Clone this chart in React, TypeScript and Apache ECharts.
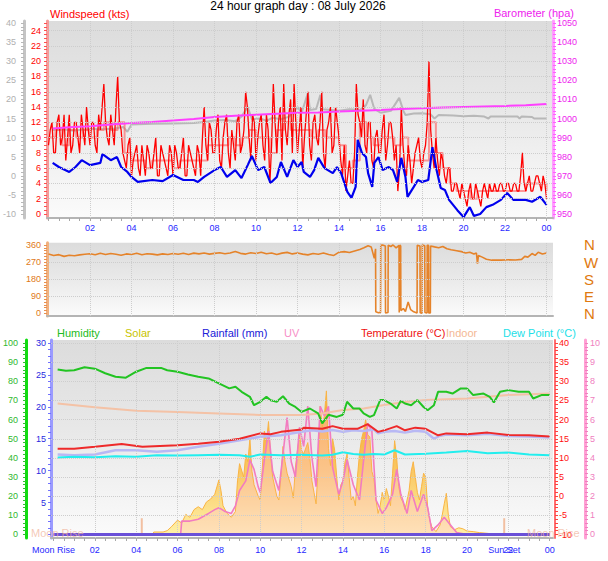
import React, { useEffect, useRef } from "react";
import * as echarts from "echarts";

// ---------- DATA ----------
// Top panel: wind gust (kts), every 10 minutes from 00:00
const gustKts = [
  9, 12, 8, 13, 10, 7,
  13, 9, 12, 8, 11, 14,
  9, 12, 8, 11, 17, 10,
  13, 9, 18, 11, 7, 9,
  5, 8, 6, 9, 5, 8,
  6, 10, 5, 8, 6, 9,
  5, 8, 6, 10, 5, 8,
  6, 9, 5, 14, 7, 11,
  8, 13, 6, 12, 8, 11,
  7, 13, 9, 16, 10, 13,
  7, 12, 9, 13, 4, 17,
  8, 14, 17, 9, 15, 17,
  8, 14, 10, 16, 7, 13,
  9, 16, 6, 12, 8, 14,
  10, 5, 3, 7, 4, 17,
  12, 15, 8, 12, 6, 11,
  8, 13, 9, 12, 7, 3,
  14, 6, 9, 4, 8, 10,
  6, 9, 20, 8, 10, 5,
  7, 4, 6, 3, 4, 2,
  3, 1, 4, 2, 3, 1,
  4, 2, 3, 4, 3, 4,
  3, 4, 3, 4, 3, 8,
  3, 5, 3, 5, 4, 5,
  2,
];
// wind gust (kts) at the 5-minute marks in between (00:05, 00:15, ...)
const gustKtsMid = [
  11, 8, 12, 9, 13, 10,
  8, 12, 10, 13, 9, 11,
  12, 9, 13, 14, 12, 9,
  11, 14, 12, 8, 6, 10,
  7, 9, 5, 7, 9, 6,
  8, 5, 9, 7, 5, 8,
  9, 6, 8, 5, 9, 7,
  5, 8, 10, 9, 12, 8,
  11, 7, 10, 13, 6, 9,
  12, 8, 11, 14, 7, 12,
  10, 13, 7, 11, 9, 12,
  12, 7, 11, 13, 8, 12,
  11, 6, 13, 9, 12, 10,
  12, 8, 11, 14, 9, 12,
  7, 9, 5, 4, 8, 13,
  10, 9, 12, 7, 10, 8,
  11, 7, 12, 10, 9, 6,
  9, 5, 7, 6, 9, 7,
  8, 12, 11, 6, 7, 8,
  5, 6, 3, 4, 3, 4,
  2, 3, 2, 4, 2, 3,
  3, 4, 3, 3, 4, 3,
  4, 3, 4, 3, 5, 4,
  4, 3, 4, 5, 3, 4,
];
const gustStepMin = 10;
// average wind (kts), every 20 minutes
const avgKts = [
  10, 11, 9, 11, 10, 11, 10, 11, 12, 11, 12, 8, 7, 7, 6, 7, 7, 7, 6, 7, 7, 7, 7, 9,
  9, 9, 10, 9, 10, 11, 10, 10, 8, 11, 12, 11, 11, 11, 10, 11, 10, 10, 9, 6, 7, 12, 10, 9,
  10, 10, 9, 10, 7, 7, 7, 12, 8, 6, 4, 3, 3, 2, 3, 3, 3, 3, 3, 3, 3, 4, 4, 4, 3,
];
const avgStepMin = 20;

// blue line on the grey (-10..40) scale: [hour, value]
const blueLine: [number, number][] = [
  [0.2, 3.4], [0.5, 2.3], [1.0, 1.0], [1.3, 2.3], [1.6, 4.1], [2.0, 2.8], [2.5, 3.4], [2.6, 5.7],
  [3.0, 4.1], [3.3, 4.9], [3.5, 2.3], [3.8, 1.0], [4.0, -0.3], [4.3, -1.6], [5.0, -1.1], [5.5, -1.4],
  [6.0, 0.2], [6.5, -1.1], [7.0, -1.1], [7.2, -1.6], [7.5, -0.3], [8.0, 1.5], [8.3, 2.3], [8.6, -0.3],
  [9.0, 1.5], [9.3, -0.6], [9.6, 2.8], [9.8, 5.2], [10.1, 1.5], [10.4, 2.3], [10.7, -1.9], [11.0, -0.3],
  [11.2, 3.6], [11.5, -0.3], [11.8, 4.1], [12.0, 2.3], [12.2, 3.6], [12.3, 1.0], [12.6, -0.3], [12.8, 1.5],
  [13.0, 4.7], [13.3, 2.0], [13.7, 0.7], [13.9, 2.3], [14.1, 0.7], [14.4, -4.2], [14.6, -5.8], [14.8, -2.9],
  [14.9, 9.4], [15.1, 6.0], [15.3, 4.9], [15.4, 0.7], [15.6, -2.9], [15.7, 3.4], [15.9, 4.9], [16.1, 1.5],
  [16.4, 2.3], [16.6, 1.5], [16.8, -1.6], [17.0, 4.7], [17.2, -0.3], [17.3, -5.5], [17.6, -2.9], [17.8, -1.1],
  [18.0, -1.6], [18.3, -1.1], [18.5, 7.5], [18.7, 1.5], [18.9, -3.2], [19.1, -3.7], [19.3, -6.3], [19.7, -9.0],
  [20.0, -10.8], [20.3, -8.2], [20.5, -10.5], [20.8, -10.0], [21.1, -8.2], [21.4, -7.6], [21.8, -6.3], [22.1, -4.5],
  [22.4, -6.3], [23.0, -6.3], [23.3, -6.8], [23.7, -5.5], [24.0, -7.6],
];
// grey line on the grey (-10..40) scale
const greyLine: [number, number][] = [
  [0.2, 12.0], [0.7, 12.2], [1.2, 11.8], [1.7, 12.1], [2.2, 12.3], [2.7, 12.2], [3.2, 12.4], [3.6, 12.8],
  [3.8, 11.5], [4.0, 13.4], [5.0, 13.6], [6.0, 13.7], [7.0, 13.8], [7.5, 14.1], [8.0, 14.5], [8.5, 14.6],
  [9.0, 14.3], [9.3, 15.5], [9.6, 18.0], [9.8, 14.8], [10.2, 15.0], [10.5, 14.4], [10.8, 15.2], [11.2, 14.8],
  [11.6, 15.5], [12.0, 18.0], [12.2, 16.5], [12.5, 21.7], [12.6, 17.2], [12.9, 17.5], [13.1, 21.2], [13.2, 17.4],
  [13.6, 17.2], [14.0, 17.0], [14.5, 17.4], [15.0, 17.2], [15.3, 18.5], [15.5, 21.2], [15.7, 17.5], [16.0, 16.5],
  [16.5, 17.0], [16.9, 20.4], [17.1, 17.0], [17.2, 15.9], [17.6, 16.3], [18.0, 16.4], [18.4, 16.1], [18.6, 15.0],
  [18.8, 15.9], [19.5, 15.8], [20.0, 15.6], [20.5, 15.7], [21.0, 15.5], [21.2, 15.0], [21.3, 15.5], [22.0, 15.5],
  [22.6, 15.5], [22.7, 15.0], [22.8, 15.5], [23.3, 15.4], [23.4, 15.0], [24.0, 15.0],
];
// barometer (hpa)
const baroHpa: [number, number][] = [
  [0.2, 994.8], [1, 995.4], [2, 996], [3, 996.8], [4, 997.6], [5, 998.2], [6, 999], [7, 999.8],
  [8, 1000.8], [9, 1001.5], [10, 1002], [11, 1002.5], [12, 1003], [13, 1003.2], [14, 1003.6],
  [15, 1004], [16, 1004.4], [17, 1005], [18, 1005.4], [19, 1005.7], [20, 1006], [21, 1006.3],
  [22, 1006.6], [23, 1007], [24, 1007.6],
];

// Middle panel: wind direction (deg)
const windDir: [number, number][] = [
  [0, 312], [0.25, 305], [0.5, 309], [0.75, 300], [1, 306], [1.25, 303], [1.5, 308], [1.75, 311],
  [2, 314], [2.25, 309], [2.5, 316], [2.75, 310], [3, 315], [3.25, 311], [3.5, 306], [3.75, 313],
  [4, 310], [4.25, 316], [4.5, 309], [4.75, 314], [5, 312], [5.25, 308], [5.5, 313], [5.75, 310],
  [6, 315], [6.25, 311], [6.5, 316], [6.75, 310], [7, 317], [7.25, 313], [7.5, 318], [7.75, 312],
  [8, 316], [8.25, 319], [8.5, 314], [8.75, 318], [9, 326], [9.25, 316], [9.5, 312], [9.75, 319],
  [10, 315], [10.25, 322], [10.5, 314], [10.75, 318], [11, 310], [11.25, 317], [11.5, 321], [11.75, 313],
  [12, 318], [12.25, 312], [12.5, 308], [12.75, 315], [13, 311], [13.25, 318], [13.5, 310], [13.75, 305],
  [14, 322], [14.25, 325], [14.5, 320], [14.75, 328], [15, 336], [15.2, 345], [15.4, 356], [15.55, 350],
  [15.7, 290], [15.76, 340], [15.77, 8], [15.9, 3], [16.0, 5], [16.01, 358], [16.1, 360], [16.23, 355],
  [16.24, 2], [16.36, 4], [16.37, 358], [16.5, 352], [16.6, 360], [16.75, 345], [16.89, 358], [16.9, 5],
  [16.92, 5], [16.93, 360], [16.97, 355], [16.98, 15], [17.1, 25], [17.2, 10], [17.33, 60], [17.45, 20],
  [17.6, 8], [17.76, 2], [17.77, 358], [17.9, 355], [17.91, 3], [18.0, 0], [18.01, 360], [18.13, 356],
  [18.14, 4], [18.24, 2], [18.25, 358], [18.31, 358], [18.32, 2], [18.4, 2], [18.41, 355], [18.6, 350],
  [18.8, 345], [19.0, 352], [19.2, 340], [19.4, 335], [19.67, 330], [19.9, 325], [20.1, 318], [20.3, 322],
  [20.5, 312], [20.62, 318], [20.67, 262], [20.72, 305], [20.9, 296], [21.1, 285], [21.36, 280], [21.8, 280],
  [22.2, 282], [22.5, 281], [22.8, 284], [22.95, 300], [23.1, 296], [23.3, 315], [23.45, 305], [23.6, 322],
  [23.8, 312], [24.0, 318],
];

// Bottom panel
const humidity: [number, number][] = [
  [0.2, 86.2], [0.6, 85.5], [1, 85.8], [1.5, 87.3], [2, 86.6], [2.5, 84.2], [3, 82.4], [3.5, 81.9],
  [4, 85], [4.5, 87], [5.2, 87], [5.5, 85.8], [6, 85], [6.5, 83.6], [7, 82.4], [7.5, 81.5], [8, 78.9],
  [8.5, 76.3], [8.8, 77.2], [9.1, 74.5], [9.5, 71.9], [9.7, 67.5], [10, 69.3], [10.3, 71.9], [10.5, 70.1],
  [10.8, 69.3], [11.1, 72.2], [11.4, 68.4], [11.7, 66.6], [12, 64], [12.4, 65.8], [12.8, 63.2], [13, 58],
  [13.3, 62.5], [13.7, 61.4], [14, 62.5], [14.2, 69.3], [14.5, 65.8], [14.8, 65.8], [15, 63.2], [15.3, 61.4],
  [15.5, 62.3], [15.8, 70.2], [16, 70.2], [16.3, 68.4], [16.6, 65.8], [16.8, 69.8], [17, 68.4], [17.3, 67.5],
  [17.6, 70.2], [17.9, 66.6], [18.1, 64.9], [18.4, 67.5], [18.6, 74.5], [19, 74.5], [19.3, 73.6], [19.7, 76.3],
  [20, 76.3], [20.3, 72.8], [20.8, 73.6], [21.1, 71.9], [21.3, 69], [21.6, 74.5], [22, 75.4], [22.5, 74.5],
  [23, 74.5], [23.2, 71], [23.6, 72.8], [24, 72.8],
];
const temperature: [number, number][] = [
  [0.2, 12.4], [1, 12.4], [2, 12.9], [3.3, 13.6], [4.3, 12.9], [6, 13.3], [7, 13.7], [8, 14.2], [9, 15.0],
  [10, 16.4], [10.5, 16.2], [11, 16.8], [12, 17.4], [12.1, 17.9], [13, 17.6], [13.5, 18.3], [14, 17.6],
  [14.7, 17.6], [15.2, 18.8], [15.7, 16.8], [16, 17.2], [16.6, 18.3], [17, 17.2], [17.5, 17.9], [18, 17.6],
  [18.6, 15.9], [19, 16.4], [20, 16.2], [21, 16.6], [22, 16.0], [23, 15.9], [24, 15.6],
];
const apparent: [number, number][] = [
  [0.2, 10.9], [1, 10.7], [2, 10.9], [3, 12], [4, 12], [5, 11.6], [6, 12], [7, 12.9], [8, 13.7], [9, 14.6],
  [10, 15.5], [11, 15.9], [12, 16.8], [12.5, 17.2], [13, 16.9], [13.5, 17.3], [14, 16.8], [14.5, 17.2],
  [15, 17.0], [15.5, 17.4], [15.7, 16.4], [16, 16.8], [16.5, 17.0], [17, 16.6], [17.5, 17.1], [18, 16.8],
  [18.4, 15.0], [18.7, 15.8], [19, 16.1], [20, 15.9], [21, 16.3], [22, 15.7], [23, 15.6], [24, 15.3],
];
const dewPoint: [number, number][] = [
  [0.2, 10.1], [1, 10.3], [2, 10.2], [3, 10.4], [4, 10.3], [5, 10.7], [6, 10.6], [7, 10.7], [8, 10.8],
  [9, 10.7], [9.5, 10.3], [10, 10.9], [11, 10.7], [12, 10.8], [13, 10.6], [13.5, 10.8], [14, 11.5],
  [14.5, 11.0], [15, 10.8], [15.5, 11.0], [16, 10.9], [16.5, 12.0], [17, 10.9], [18, 11.1], [19, 11.4],
  [20, 11.8], [21, 11.2], [22, 11.4], [23, 10.9], [24, 10.7],
];
const indoor: [number, number][] = [
  [0.2, 24.2], [2, 23.2], [4, 22.3], [6, 22.0], [8, 21.6], [10, 21.2], [12, 21.2], [13, 21.6], [14, 22.5],
  [15, 22.9], [16, 23.8], [17, 24.6], [18, 25.1], [20, 25.5], [22, 26.4], [24, 26.8],
];
const solar: [number, number][] = [
  [0, 0], [4.8, 0], [4.85, 13], [5.3, 13], [5.5, 20], [5.7, 40], [6.0, 75], [6.2, 60], [6.4, 105], [6.6, 90],
  [6.8, 130], [7.0, 145], [7.2, 130], [7.4, 170], [7.6, 185], [7.8, 210], [8.0, 285], [8.1, 230], [8.2, 150],
  [8.4, 110], [8.6, 90], [8.8, 120], [8.9, 280], [9.0, 370], [9.2, 300], [9.3, 420], [9.4, 380], [9.5, 500],
  [9.6, 330], [9.7, 260], [9.9, 200], [10.0, 180], [10.1, 350], [10.2, 540], [10.3, 480], [10.4, 590],
  [10.5, 420], [10.6, 300], [10.8, 200], [10.9, 180], [11.0, 300], [11.1, 460], [11.2, 380], [11.3, 320],
  [11.5, 250], [11.6, 190], [11.7, 350], [11.8, 440], [11.9, 520], [12.0, 440], [12.1, 420], [12.3, 480],
  [12.4, 400], [12.5, 280], [12.6, 220], [12.7, 160], [12.8, 350], [12.9, 670], [13.0, 560], [13.1, 620],
  [13.2, 750], [13.3, 450], [13.4, 360], [13.5, 500], [13.6, 440], [13.7, 300], [13.8, 180], [13.9, 260],
  [14.0, 280], [14.1, 380], [14.2, 420], [14.3, 300], [14.4, 180], [14.5, 200], [14.6, 150], [14.7, 300],
  [14.8, 420], [14.9, 500], [15.0, 540], [15.1, 600], [15.2, 520], [15.3, 510], [15.4, 330], [15.5, 290],
  [15.6, 180], [15.7, 110], [15.8, 150], [15.9, 220], [16.0, 180], [16.1, 240], [16.2, 200], [16.3, 150],
  [16.4, 320], [16.5, 490], [16.6, 400], [16.7, 250], [16.8, 190], [16.9, 170], [17.0, 130], [17.1, 180],
  [17.2, 230], [17.3, 330], [17.4, 380], [17.5, 300], [17.6, 220], [17.7, 180], [17.8, 250], [17.9, 320],
  [18.0, 300], [18.1, 140], [18.2, 75], [18.3, 40], [18.5, 15], [18.7, 50], [18.8, 100], [18.9, 160],
  [19.0, 215], [19.1, 100], [19.2, 40], [19.4, 25], [19.6, 35], [19.8, 30], [20.0, 18], [20.3, 15],
  [20.6, 10], [21.0, 6], [21.2, 3], [21.3, 0], [24, 0],
];
const uvIndex: [number, number][] = [
  [0, 0], [6.15, 0], [6.2, 0.7], [6.6, 0.7], [7.0, 0.8], [7.5, 1.1], [7.8, 1.3], [8.0, 1.4], [8.3, 1.2],
  [8.6, 1.1], [8.8, 1.5], [9.0, 2.3], [9.3, 2.8], [9.5, 3.9], [9.7, 3.4], [9.9, 2.5], [10.0, 2.2],
  [10.2, 3.9], [10.4, 5.4], [10.6, 3.3], [10.9, 2.3], [11.1, 4.2], [11.3, 6.1], [11.5, 3.8], [11.7, 3.0],
  [11.9, 5.6], [12.1, 4.6], [12.3, 6.7], [12.5, 4.0], [12.7, 2.5], [12.9, 6.7], [13.1, 6.2], [13.3, 6.7],
  [13.5, 3.5], [13.8, 2.1], [14.0, 2.8], [14.2, 3.9], [14.5, 2.6], [14.8, 1.8], [15.0, 3.9], [15.2, 5.8],
  [15.4, 5.4], [15.6, 1.8], [15.9, 1.1], [16.1, 1.4], [16.4, 2.1], [16.6, 3.4], [16.8, 2.1], [17.1, 1.1],
  [17.3, 2.3], [17.6, 1.2], [17.9, 2.1], [18.1, 1.4], [18.3, 0.2], [18.6, 0.5], [18.9, 0.9], [19.2, 0.5],
  [19.5, 0.1], [20.0, 0], [24, 0],
];
const rainfall: [number, number][] = [[0, 0], [24, 0]];
const moonRiseHour = 4.27;
const sunSetHour = 21.8;

// tick labels
const hourTicks = [2, 4, 6, 8, 10, 12, 14, 16, 18, 20, 22, 24];
const windTicks = [0, 2, 4, 6, 8, 10, 12, 14, 16, 18, 20, 22, 24];
const greyTicks = [-10, -5, 0, 5, 10, 15, 20, 25, 30, 35, 40];
const baroTicks = [950, 960, 970, 980, 990, 1000, 1010, 1020, 1030, 1040, 1050];
const dirTicks = [0, 90, 180, 270, 360];
const dirLetters: Record<number, string> = { 0: "N", 90: "E", 180: "S", 270: "W", 360: "N" };
const rainTicks = [5, 10, 15, 20, 25, 30];
const humTicks = [0, 10, 20, 30, 40, 50, 60, 70, 80, 90, 100];
const tempTicks = [-10, -5, 0, 5, 10, 15, 20, 25, 30, 35, 40];
const uvTicks = [0, 1, 2, 3, 4, 5, 6, 7, 8, 9, 10];

// ---------- helpers ----------
const FONT = "'Liberation Sans', Arial, sans-serif";
function seq(a: number, b: number, s: number) {
  const r: number[] = [];
  for (let v = a; v <= b + 1e-9; v += s) r.push(+v.toFixed(4));
  return r;
}
function regular(vals: number[], stepMin: number): [number, number][] {
  return vals.map((v, i) => [(i * stepMin) / 60, v]);
}
function interleave(main: number[], mid: number[], stepMin: number): [number, number][] {
  const out: [number, number][] = [];
  main.forEach((v, i) => {
    out.push([(i * stepMin) / 60, v]);
    if (i < mid.length) out.push([(i * stepMin + stepMin / 2) / 60, mid[i]]);
  });
  return out;
}
function hh(v: number) {
  const h = Math.round(v) % 24;
  return (h < 10 ? "0" : "") + h;
}

function yAx(o: any) {
  return {
    type: "value",
    gridIndex: o.grid,
    position: o.pos,
    offset: o.offset || 0,
    min: o.min,
    max: o.max,
    show: o.show !== false,
    axisLine: { show: o.line !== false, onZero: false, lineStyle: { color: o.lineColor, width: o.lineWidth || 3 } },
    axisTick: {
      show: !!o.ticks,
      customValues: o.ticks,
      length: 3,
      lineStyle: { color: o.tickColor || o.lineColor, width: 1 },
    },
    axisLabel: {
      customValues: o.labels,
      color: o.labelColor,
      fontSize: o.fontSize || 9,
      fontFamily: FONT,
      margin: o.margin ?? 6,
      formatter: o.formatter || ((v: number) => String(v)),
    },
    splitLine: { show: false },
  };
}

export default function App() {
  const ref = useRef<HTMLDivElement>(null);
  useEffect(() => {
    const chart = echarts.init(ref.current!, null, { renderer: "svg" });
    const bg = () =>
      new echarts.graphic.LinearGradient(0, 0, 0, 1, [
        { offset: 0, color: "#dcdcdc" },
        { offset: 0.45, color: "#e8e8e8" },
        { offset: 1, color: "#fbfbfb" },
      ]);
    const gridLine = { color: "#cdcdcd", type: "dotted", width: 1 };
    const vLines = hourTicks.map((h) => ({ xAxis: h }));
    const markLines = (extra: any[]) => ({
      silent: true,
      symbol: "none",
      label: { show: false },
      lineStyle: gridLine,
      animation: false,
      data: [...vLines, ...extra],
    });
    const xLabelStyle = { color: "#2828ff", fontSize: 9, fontFamily: FONT };
    const T = (x: number, y: number, text: string, fill: string, align = "left", size = 11) => ({
      type: "text", x, y, z: 10,
      style: { text, fill, font: `${size}px ${FONT}`, align, verticalAlign: "middle" },
    });

    const option: any = {
      animation: false,
      backgroundColor: "#ffffff",
      grid: [
        { left: 47, top: 21, width: 506, height: 197, show: true, backgroundColor: bg(), borderWidth: 0 },
        { left: 47, top: 242.7, width: 506, height: 73.3, show: true, backgroundColor: bg(), borderWidth: 0 },
        { left: 48, top: 340, width: 505, height: 198, show: true, backgroundColor: bg(), borderWidth: 0 },
      ],
      xAxis: [
        {
          type: "value", gridIndex: 0, min: -0.072, max: 24.31,
          axisLine: { onZero: false, lineStyle: { color: "#b4b4b4", width: 2 } },
          axisTick: { customValues: seq(0, 24, 0.5), length: 3, lineStyle: { color: "#a8a8a8" } },
          axisLabel: { customValues: hourTicks, formatter: (v: number) => hh(v), margin: 5, ...xLabelStyle },
          splitLine: { show: false },
        },
        {
          type: "value", gridIndex: 1, min: -0.072, max: 24.31,
          axisLine: { onZero: false, lineStyle: { color: "#b4b4b4", width: 2 } },
          axisTick: { show: false },
          axisLabel: { show: false },
          splitLine: { show: false },
        },
        {
          type: "value", gridIndex: 2, min: -0.12, max: 24.16,
          axisLine: { onZero: false, lineStyle: { color: "#b4b4b4", width: 2 } },
          axisTick: { customValues: seq(0, 24, 0.5), length: 3, lineStyle: { color: "#a8a8a8" } },
          axisLabel: {
            customValues: [0, ...hourTicks.slice(0, 10), sunSetHour, 22, 24],
            formatter: (v: number) => (v === 0 ? "Moon Rise" : v === sunSetHour ? "Sun Set" : hh(v)),
            margin: 7,
            ...xLabelStyle,
          },
          splitLine: { show: false },
        },
      ],
      yAxis: [
        yAx({ grid: 0, pos: "left", min: -0.524, max: 25.262, lineColor: "#f49a9a", tickColor: "#ff5050",
          ticks: seq(0, 25, 0.5), labels: windTicks, labelColor: "#ff0000", margin: 6 }),
        yAx({ grid: 0, pos: "left", offset: 23, min: -11.047, max: 40.524, lineColor: "#c4c4c4", tickColor: "#b8b8b8",
          ticks: seq(-10, 40, 1), labels: greyTicks, labelColor: "#b0b0b0", margin: 8 }),
        yAx({ grid: 0, pos: "right", min: 947.906, max: 1051.047, lineColor: "#ff9cff", tickColor: "#ff60ff",
          ticks: seq(950, 1050, 2), labels: baroTicks, labelColor: "#ee22ee", margin: 4 }),
        yAx({ grid: 1, pos: "left", min: -14, max: 372, lineColor: "#f0b080", tickColor: "#e89050",
          ticks: seq(0, 360, 15), labels: dirTicks, labelColor: "#e07818", margin: 6 }),
        yAx({ grid: 1, pos: "right", min: -14, max: 372, line: false, labels: dirTicks, labelColor: "#e07a10",
          fontSize: 15, margin: 31, formatter: (v: number) => dirLetters[v] }),
        yAx({ grid: 2, pos: "left", min: -0.55, max: 30.47, lineColor: "#9a9aff", tickColor: "#7070ff",
          ticks: seq(0, 30, 1), labels: rainTicks, labelColor: "#2828e0", margin: 5 }),
        yAx({ grid: 2, pos: "left", offset: 25, min: -1.83, max: 101.57, lineColor: "#10dd10", tickColor: "#30c030",
          ticks: seq(0, 100, 2), labels: humTicks, labelColor: "#30b830", margin: 8 }),
        yAx({ grid: 2, pos: "right", offset: 2, min: -10.91, max: 40.78, lineColor: "#ff7070", tickColor: "#ff4040",
          lineWidth: 2, ticks: seq(-10, 40, 1), labels: tempTicks, labelColor: "#ff1010", margin: 4 }),
        yAx({ grid: 2, pos: "right", offset: 32, min: -0.183, max: 10.157, lineColor: "#ffa0d4", tickColor: "#f080c0",
          ticks: seq(0, 10, 0.2), labels: uvTicks, labelColor: "#f080c0", margin: 5 }),
        yAx({ grid: 2, pos: "right", min: -18.3, max: 1015.7, show: false }),
      ],
      series: [
        {
          type: "line", xAxisIndex: 0, yAxisIndex: 0, z: 1, data: [[-5, -5]], symbol: "none",
          lineStyle: { opacity: 0 }, markLine: markLines(seq(2, 24, 2).map((v) => ({ yAxis: v }))),
        },
        {
          type: "line", xAxisIndex: 0, yAxisIndex: 1, data: greyLine, symbol: "none",
          lineStyle: { color: "#b8b8b8", width: 2 },
        },
        {
          type: "line", xAxisIndex: 0, yAxisIndex: 0, data: regular(avgKts, avgStepMin), symbol: "none", step: "end",
          lineStyle: { color: "rgba(255,90,90,0.6)", width: 2 },
        },
        {
          type: "line", xAxisIndex: 0, yAxisIndex: 0, data: interleave(gustKts, gustKtsMid, gustStepMin), symbol: "none",
          lineStyle: { color: "#ff0000", width: 1.3 },
        },
        {
          type: "line", xAxisIndex: 0, yAxisIndex: 2, data: baroHpa, symbol: "none",
          lineStyle: { color: "#ff40ff", width: 2 },
        },
        {
          type: "line", xAxisIndex: 0, yAxisIndex: 1, data: blueLine, symbol: "none", clip: false,
          lineStyle: { color: "#0000ee", width: 2.2 },
        },
        {
          type: "line", xAxisIndex: 1, yAxisIndex: 3, data: windDir, symbol: "none",
          lineStyle: { color: "#e5832a", width: 1.6 },
          markLine: markLines([90, 180, 270].map((v) => ({ yAxis: v }))),
        },
        {
          type: "line", xAxisIndex: 2, yAxisIndex: 6, z: 1, data: [[-5, -50]], symbol: "none",
          lineStyle: { opacity: 0 }, markLine: markLines(seq(10, 100, 10).map((v) => ({ yAxis: v }))),
        },
        {
          type: "line", xAxisIndex: 2, yAxisIndex: 9, data: solar, symbol: "none",
          lineStyle: { color: "#f9b445", width: 1 },
          areaStyle: {
            opacity: 1,
            color: new echarts.graphic.LinearGradient(0, 400, 0, 536, [
              { offset: 0, color: "#f7a630" },
              { offset: 0.5, color: "#f9c660" },
              { offset: 1, color: "#fff2a8" },
            ], true),
          },
        },
        {
          type: "line", xAxisIndex: 2, yAxisIndex: 8, data: uvIndex, symbol: "none",
          lineStyle: { color: "#f27cc0", width: 1.6 },
          areaStyle: { color: "rgba(255,190,225,0.45)" },
        },
        {
          type: "line", xAxisIndex: 2, yAxisIndex: 7, data: indoor, symbol: "none",
          lineStyle: { color: "#f4c2a6", width: 2 },
        },
        {
          type: "line", xAxisIndex: 2, yAxisIndex: 6, data: humidity, symbol: "none",
          lineStyle: { color: "#22c422", width: 2 },
        },
        {
          type: "line", xAxisIndex: 2, yAxisIndex: 7, data: apparent, symbol: "none",
          lineStyle: { color: "#b8b8f4", width: 2.5 },
        },
        {
          type: "line", xAxisIndex: 2, yAxisIndex: 7, data: temperature, symbol: "none",
          lineStyle: { color: "#ee2a2a", width: 2 },
        },
        {
          type: "line", xAxisIndex: 2, yAxisIndex: 7, data: dewPoint, symbol: "none",
          lineStyle: { color: "#22eeee", width: 2 },
        },
        {
          type: "line", xAxisIndex: 2, yAxisIndex: 9, data: [[moonRiseHour, 0], [moonRiseHour, 85]], symbol: "none",
          lineStyle: { color: "#f2c0a2", width: 2 },
        },
        {
          type: "line", xAxisIndex: 2, yAxisIndex: 9, data: [[sunSetHour, 0], [sunSetHour, 85]], symbol: "none",
          lineStyle: { color: "#f2c0a2", width: 2 },
        },
        {
          type: "line", xAxisIndex: 2, yAxisIndex: 5, data: rainfall, symbol: "none", z: 5,
          lineStyle: { color: "#6a50d8", width: 3 },
        },
      ],
      graphic: [
        T(298, 6, "24 hour graph day : 08 July 2026", "#000000", "center", 12),
        T(50, 14, "Windspeed (kts)", "#ff0000"),
        T(574, 13, "Barometer (hpa)", "#ee22ee", "right"),
        T(57, 333, "Humidity", "#22bb22"),
        T(125, 333, "Solar", "#c8c400"),
        T(202, 333, "Rainfall (mm)", "#2020d8"),
        T(284, 333, "UV", "#f78fc8"),
        T(361, 333, "Temperature (°C)", "#ee1111"),
        T(446, 333, "Indoor", "#f4b894"),
        T(503, 333, "Dew Point (°C)", "#22e0e8"),
        T(31, 533, "Moon Rise", "rgba(240,176,150,0.7)"),
        T(527, 533, "Moon Rise", "rgba(240,176,150,0.7)"),
      ],
    };
    chart.setOption(option);
    return () => chart.dispose();
  }, []);
  return (
    <div
      ref={ref}
      style={{ position: "fixed", left: 0, top: 0, width: 608, height: 561, background: "#fff" }}
    />
  );
}
